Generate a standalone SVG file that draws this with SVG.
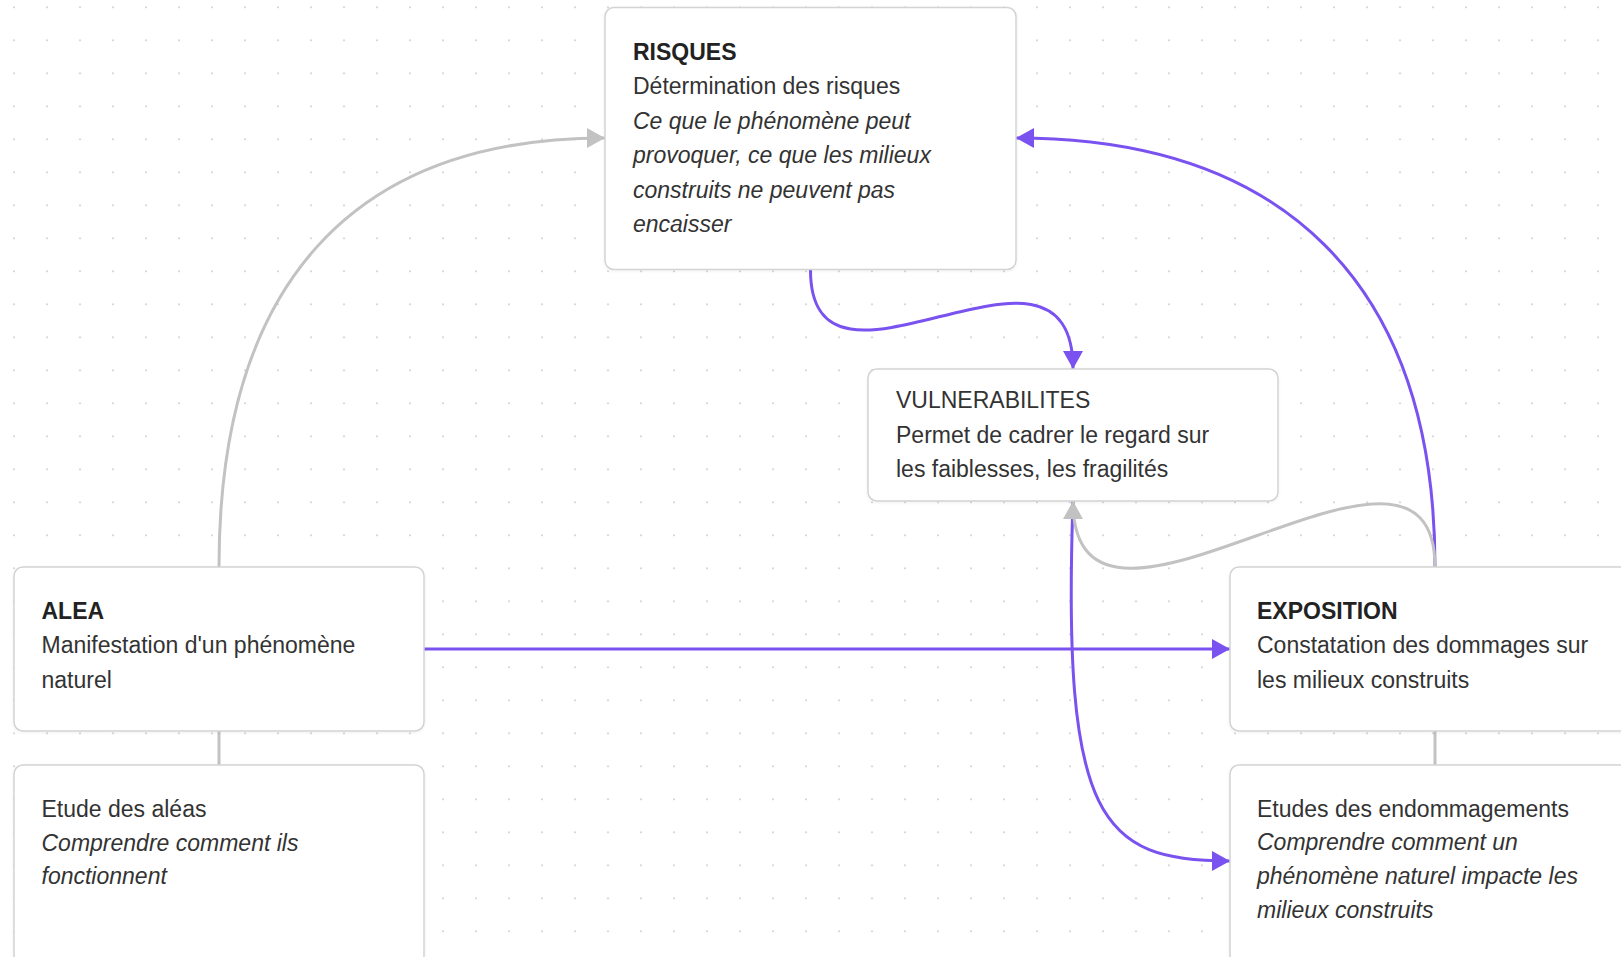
<svg xmlns="http://www.w3.org/2000/svg" width="1621" height="957" viewBox="0 0 1621 957">
  <style>
    .box { fill: #ffffff; stroke: #d3d3d3; stroke-width: 1.5; filter: url(#sh); }
    .t { font-family: "Liberation Sans", Arial, sans-serif; font-size: 23px; fill: #333333; }
    .b { font-weight: bold; fill: #222222; }
    .i { font-style: italic; }
    .gray { fill: none; stroke: #c2c2c2; stroke-width: 3; }
    .purple { fill: none; stroke: #7a52f0; stroke-width: 3; }
  </style>
  <defs>
    <pattern id="dots" x="0" y="0" width="33" height="33" patternUnits="userSpaceOnUse">
      <circle cx="14" cy="7.3" r="1.1" fill="#d6d6d6"/>
    </pattern>
    <filter id="sh" x="-5%" y="-5%" width="110%" height="115%">
      <feDropShadow dx="0" dy="1" stdDeviation="1.5" flood-color="#000000" flood-opacity="0.06"/>
    </filter>
    <marker id="ag" viewBox="0 0 18 20" refX="18" refY="10" markerWidth="18" markerHeight="20" markerUnits="userSpaceOnUse" orient="auto">
      <path d="M0,0 L18,10 L0,20 Z" fill="#c2c2c2"/>
    </marker>
    <marker id="ap" viewBox="0 0 18 20" refX="18" refY="10" markerWidth="18" markerHeight="20" markerUnits="userSpaceOnUse" orient="auto">
      <path d="M0,0 L18,10 L0,20 Z" fill="#7a52f0"/>
    </marker>
  </defs>
  <rect x="0" y="0" width="1621" height="957" fill="#ffffff"/>
  <rect x="0" y="0" width="1621" height="957" fill="url(#dots)"/>

  <g id="connectors">
    <path class="gray" d="M219,567 C219,288 349,138 605,138" marker-end="url(#ag)"/>
    <path class="purple" d="M1435,567 C1435,280 1280,138 1016,138" marker-end="url(#ap)"/>
    <path class="purple" d="M810.5,270 C810.5,430 1073,200 1073,369" marker-end="url(#ap)"/>
    <path class="purple" d="M424,649 L1230,649" marker-end="url(#ap)"/>
    <path class="purple" d="M1073,501 C1062,820 1100,861 1230,861" marker-end="url(#ap)"/>
    <path class="gray" d="M1435,567 C1435,375 1073,700 1073,501" marker-end="url(#ag)"/>
    <path class="gray" d="M219,731 L219,765"/>
    <path class="gray" d="M1435,731 L1435,765"/>
  </g>

  <g id="risques">
    <rect class="box" x="605" y="7.5" width="411" height="262" rx="9"/>
    <text class="t b" x="633" y="60">RISQUES</text>
    <text class="t" x="633" y="94.4">Détermination des risques</text>
    <text class="t i" x="633" y="128.8">Ce que le phénomène peut</text>
    <text class="t i" x="633" y="163.2">provoquer, ce que les milieux</text>
    <text class="t i" x="633" y="197.6">construits ne peuvent pas</text>
    <text class="t i" x="633" y="232">encaisser</text>
  </g>

  <g id="vulnerabilites">
    <rect class="box" x="868" y="369" width="410" height="132" rx="9"/>
    <text class="t" x="896" y="408.3">VULNERABILITES</text>
    <text class="t" x="896" y="442.7">Permet de cadrer le regard sur</text>
    <text class="t" x="896" y="477">les faiblesses, les fragilités</text>
  </g>

  <g id="alea">
    <rect class="box" x="14" y="567" width="410" height="164" rx="9"/>
    <text class="t b" x="41.5" y="619">ALEA</text>
    <text class="t" x="41.5" y="653.3">Manifestation d'un phénomène</text>
    <text class="t" x="41.5" y="687.6">naturel</text>
  </g>

  <g id="etude-aleas">
    <rect class="box" x="14" y="765" width="410" height="200" rx="9"/>
    <text class="t" x="41.5" y="816.7">Etude des aléas</text>
    <text class="t i" x="41.5" y="850.5">Comprendre comment ils</text>
    <text class="t i" x="41.5" y="884.3">fonctionnent</text>
  </g>

  <g id="exposition">
    <rect class="box" x="1230" y="567" width="410" height="164" rx="9"/>
    <text class="t b" x="1257" y="619">EXPOSITION</text>
    <text class="t" x="1257" y="653.3">Constatation des dommages sur</text>
    <text class="t" x="1257" y="687.6">les milieux construits</text>
  </g>

  <g id="etudes-endommagements">
    <rect class="box" x="1230" y="765" width="410" height="200" rx="9"/>
    <text class="t" x="1257" y="816.7">Etudes des endommagements</text>
    <text class="t i" x="1257" y="850.3">Comprendre comment un</text>
    <text class="t i" x="1257" y="883.9">phénomène naturel impacte les</text>
    <text class="t i" x="1257" y="917.5">milieux construits</text>
  </g>
</svg>
